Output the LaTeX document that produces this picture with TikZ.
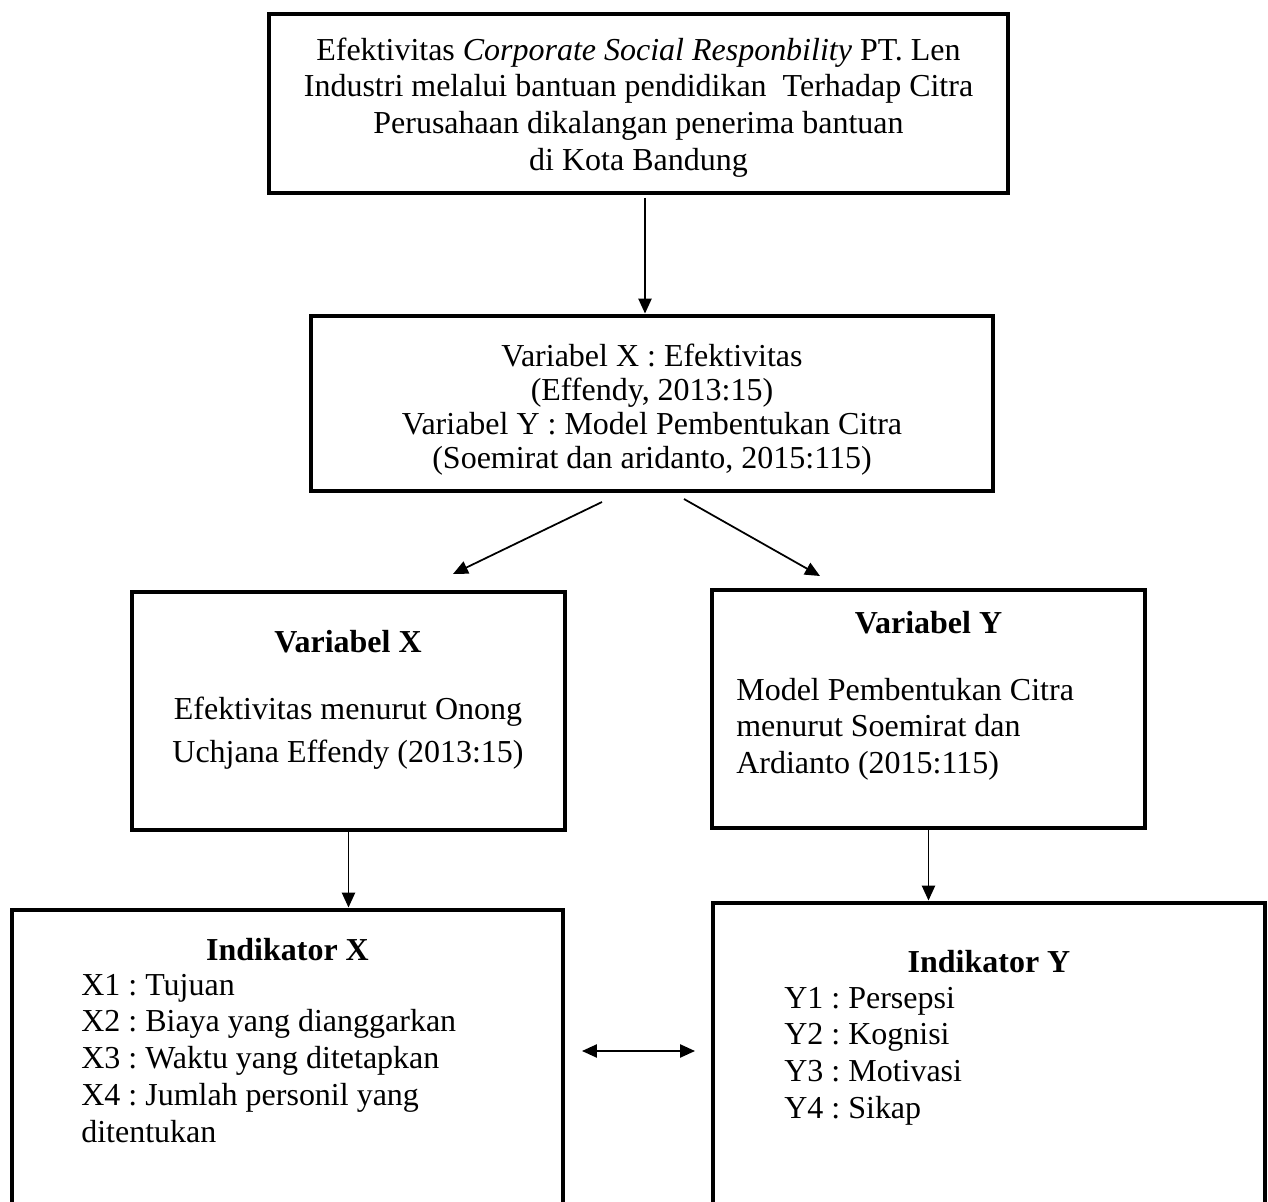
\documentclass[tikz,border=0pt]{standalone}
\usepackage{fontspec}
\setmainfont{Liberation Serif}
\usepackage{tikz}
\usetikzlibrary{positioning,shapes,arrows,arrows.meta}
\newcommand{\blokc}[1]{\begin{tabular}[t]{@{}c@{}}#1\end{tabular}}
\newcommand{\blokl}[1]{\begin{tabular}[t]{@{}l@{}}#1\end{tabular}}

\begin{document}
\begin{tikzpicture}[scale=0.2]
\tikzstyle{every node}+=[inner sep=0pt, font=\fontsize{18.2}{21}\selectfont\frenchspacing]
\tikzstyle{kotak}=[draw=black, line width=2.8pt, rectangle]
\tikzstyle{panah}=[black, line width=1pt, -{Triangle[length=8.5pt,width=7.5pt]}]
\tikzstyle{tengah}=[anchor=base]
\tikzstyle{kiri}=[anchor=base west]
\useasboundingbox (0,0) rectangle (126.8,-120.1);
\clip (0,0) rectangle (126.8,-120.1);
% kotak
\node [kotak, minimum width=14.78cm, minimum height=3.58cm] (judul) at (63.85,-10.35) {};
\node [kotak, minimum width=13.64cm, minimum height=3.5cm] (variabel) at (65.2,-40.35) {};
\node [kotak, minimum width=8.66cm, minimum height=4.76cm] (varx) at (34.85,-71.1) {};
\node [kotak, minimum width=8.66cm, minimum height=4.76cm] (vary) at (92.85,-70.9) {};
\node [kotak, minimum width=11.02cm, minimum height=7cm] (indx) at (28.75,-108.5) {};
\node [kotak, minimum width=11.04cm, minimum height=7.14cm] (indy) at (98.9,-108.15) {};
% teks
\node [tengah] (tjudul) at (63.85,-6.0) {\blokc{Efektivitas \textit{Corporate Social Responbility} PT. Len\\Industri melalui bantuan pendidikan~ Terhadap Citra\\Perusahaan dikalangan penerima bantuan\\di Kota Bandung}};
\node [tengah] (tvariabel) at (65.2,-36.6) {\blokc{Variabel X : Efektivitas\\[-1.6pt](Effendy, 2013:15)\\[-1.6pt]Variabel Y : Model Pembentukan Citra\\[-1.6pt](Soemirat dan aridanto, 2015:115)}};
\node [tengah] (tvarx) at (34.8,-65.2) {\textbf{Variabel X}};
\node [tengah] (isivarx) at (34.8,-71.9) {\blokc{Efektivitas menurut Onong\\[4pt]Uchjana Effendy (2013:15)}};
\node [tengah] (tvary) at (92.85,-63.3) {\textbf{Variabel Y}};
\node [kiri] (isivary) at (73.6,-70.0) {\blokl{Model Pembentukan Citra\\menurut Soemirat dan\\Ardianto (2015:115)}};
\node [tengah] (tindx) at (28.75,-96.0) {\textbf{Indikator X}};
\node [kiri] (isiindx) at (8.1,-99.5) {\blokl{X1 : Tujuan\\X2 : Biaya yang dianggarkan\\X3 : Waktu yang ditetapkan\\X4 : Jumlah personil yang\\ditentukan}};
\node [tengah] (tindy) at (98.9,-97.2) {\textbf{Indikator Y}};
\node [kiri] (isiindy) at (78.4,-100.8) {\blokl{Y1 : Persepsi\\Y2 : Kognisi\\Y3 : Motivasi\\Y4 : Sikap}};
% panah
\coordinate (a) at (64.5,-19.8);
\draw [panah] (a) -- (a |- variabel.north);
\coordinate (b1) at (60.2,-50.2);
\coordinate (b2) at (45.3,-57.4);
\draw [panah] (b1) -- (b2);
\coordinate (c1) at (68.4,-49.9);
\coordinate (c2) at (82.0,-57.6);
\draw [panah] (c1) -- (c2);
\draw [panah] (varx.south) -- (varx.south |- indx.north);
\draw [panah] (vary.south) -- (vary.south |- indy.north);
\coordinate (d1) at (58.2,-105.1);
\coordinate (d2) at (69.5,-105.1);
\draw [panah, {Triangle[length=8.5pt,width=7.5pt]}-{Triangle[length=8.5pt,width=7.5pt]}] (d1) -- (d2);
\end{tikzpicture}
\end{document}
